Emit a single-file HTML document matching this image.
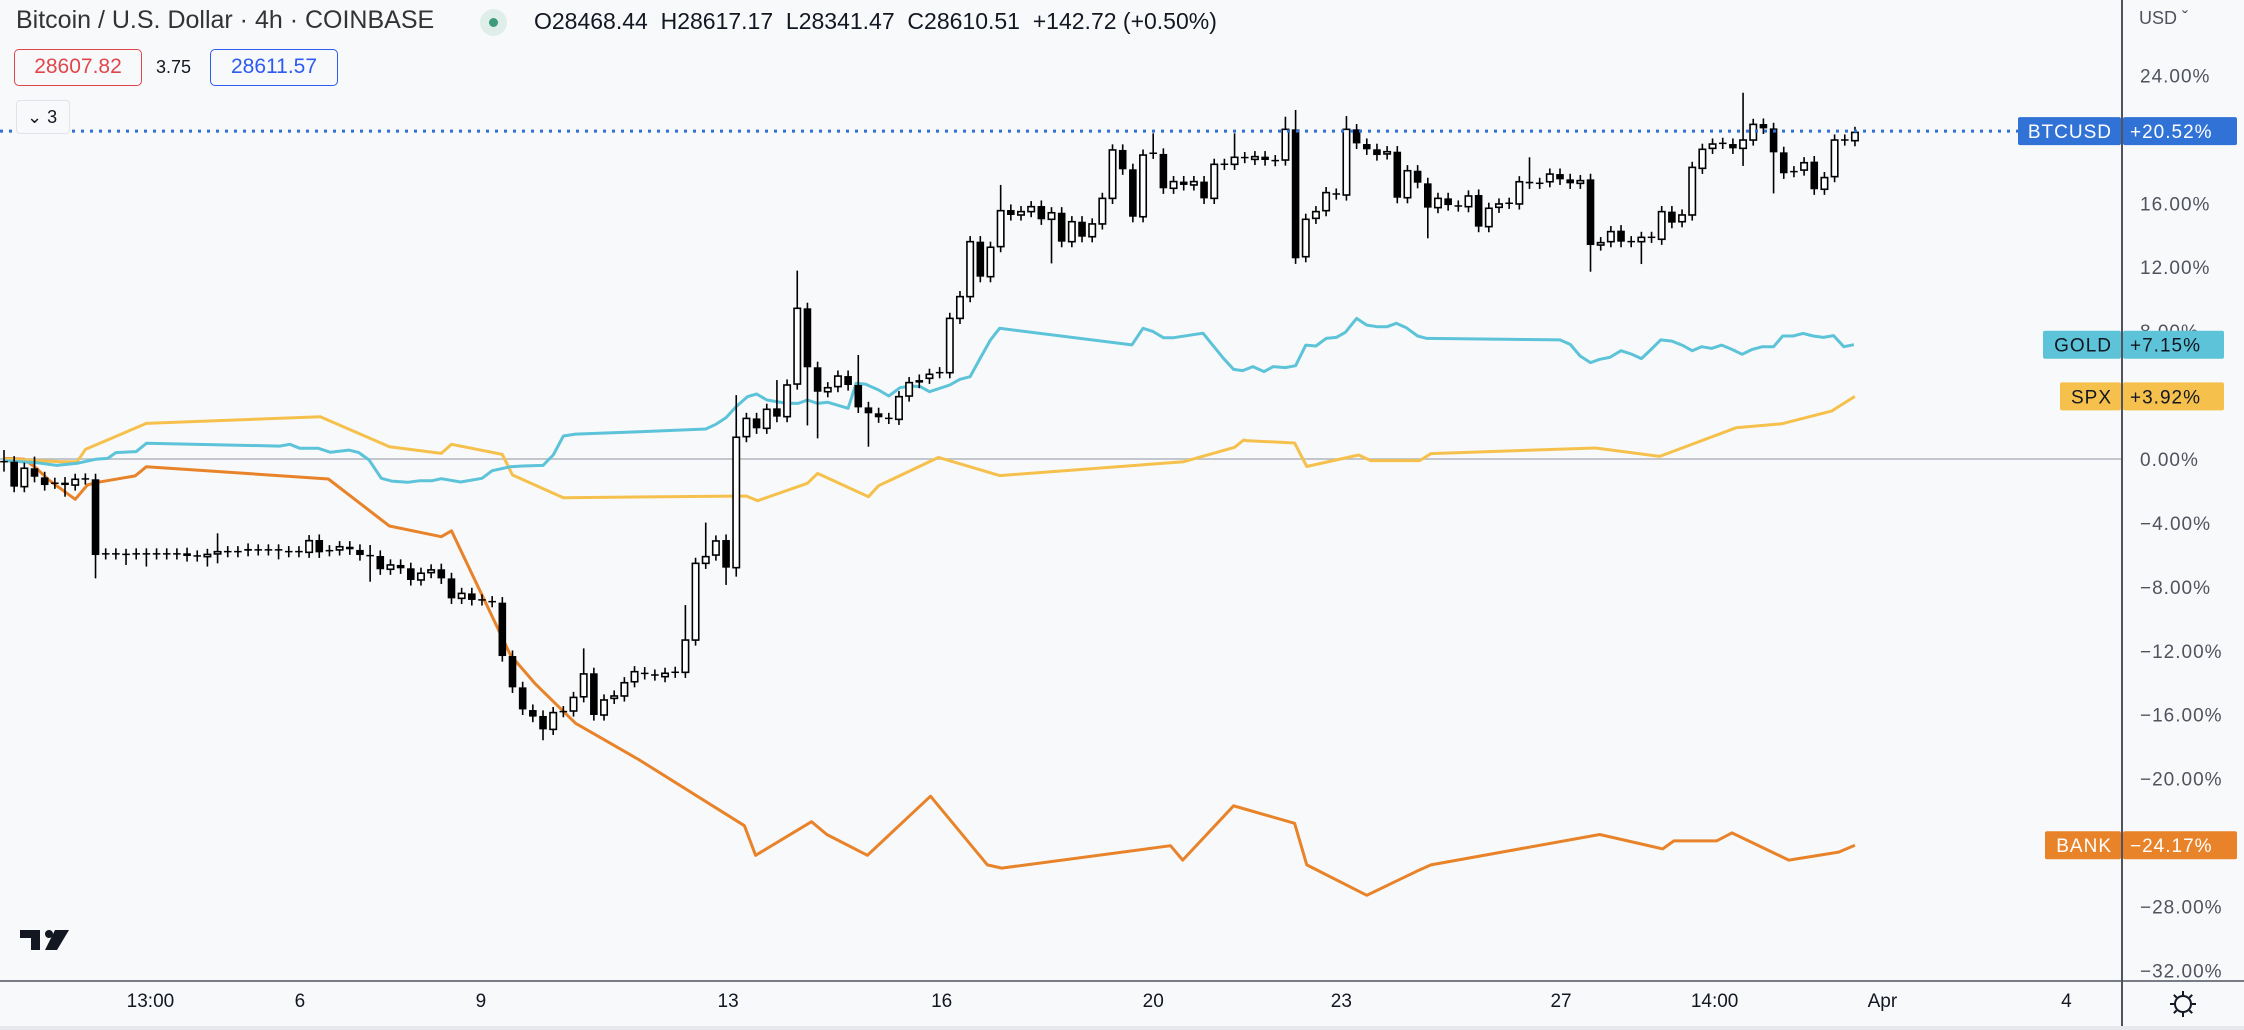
<!DOCTYPE html>
<html><head><meta charset="utf-8"><style>
html,body{margin:0;padding:0;background:#f8f9fb;}
body{width:2244px;height:1030px;overflow:hidden;position:relative;font-family:"Liberation Sans",sans-serif;}
svg{position:absolute;left:0;top:0;}
.hdr{position:absolute;white-space:nowrap;color:#131722;}
</style></head><body>
<svg id="chart" width="2244" height="1030" xmlns="http://www.w3.org/2000/svg"></svg>
<div class="hdr" style="left:16px;top:6px;font-size:25px;color:#333">Bitcoin / U.S. Dollar · 4h · COINBASE</div>
<div style="position:absolute;left:480px;top:9px;width:27px;height:27px;border-radius:50%;background:#dfeee9"><div style="position:absolute;left:9px;top:9px;width:9px;height:9px;border-radius:50%;background:#3d9a7c"></div></div>
<div class="hdr" style="left:534px;top:8px;font-size:23px;color:#131722">O28468.44&nbsp; H28617.17&nbsp; L28341.47&nbsp; C28610.51&nbsp; +142.72 (+0.50%)</div>
<div style="position:absolute;left:14px;top:49px;width:128px;height:37px;border:1.5px solid #e0474c;border-radius:5px;box-sizing:border-box;color:#e0474c;font-size:21px;text-align:center;line-height:34px">28607.82</div>
<div class="hdr" style="left:156px;top:57px;font-size:18px">3.75</div>
<div style="position:absolute;left:210px;top:49px;width:128px;height:37px;border:1.5px solid #2e5bf0;border-radius:5px;box-sizing:border-box;color:#2e5bf0;font-size:21px;text-align:center;line-height:34px">28611.57</div>
<div style="position:absolute;left:16px;top:100px;width:54px;height:34px;border:1px solid #e0e3eb;border-radius:4px;box-sizing:border-box;background:#f8f9fb;font-size:18px;line-height:32px;padding-left:10px;color:#131722">&#8964; 3</div>
<script>
const opens=[-0.17,-0.17,-1.73,-0.58,-1.15,-1.52,-1.48,-1.63,-1.25,-1.27,
-5.94,-5.94,-5.97,-5.94,-5.94,-5.94,-5.94,-5.94,-5.90,-6.07,
-6.11,-5.94,-5.80,-5.80,-5.63,-5.69,-5.69,-5.69,-5.80,-5.80,
-5.84,-5.07,-5.74,-5.69,-5.49,-5.69,-6.05,-6.07,-6.90,-6.63,
-6.84,-7.57,-7.11,-6.90,-7.47,-8.72,-8.41,-8.82,-8.93,-8.99,
-12.33,-14.29,-15.71,-16.08,-16.92,-15.81,-15.77,-14.88,-13.41,-16.02,
-14.98,-14.83,-13.94,-13.37,-13.52,-13.62,-13.35,-13.35,-11.33,-6.53,
-6.01,-5.07,-6.80,1.40,2.54,1.92,3.17,2.65,4.69,9.43,
5.74,4.21,4.53,5.19,4.63,3.23,2.86,2.54,2.48,3.94,
4.94,5.05,5.40,5.40,8.80,10.16,13.6,11.41,13.29,15.58,
15.27,15.48,15.83,15.0,15.41,13.60,14.85,13.91,14.71,16.31,
19.34,18.13,15.16,19.13,19.09,16.94,17.36,17.15,17.36,16.31,
18.44,18.44,18.86,18.75,18.92,18.67,18.71,20.63,12.66,15.06,
15.54,16.58,16.52,20.63,19.71,19.38,19.09,19.23,16.35,18.04,
17.25,15.73,16.31,15.83,15.79,16.52,14.54,15.75,16.0,15.96,
17.35,17.25,17.35,17.83,17.5,17.25,17.5,13.39,13.6,14.29,
13.6,13.6,13.87,13.75,15.48,14.85,15.27,18.19,19.44,19.75,
19.71,19.44,19.96,20.96,20.69,19.19,17.98,18.08,18.61,16.88,
17.67,19.96,19.92];
const closes=[-0.17,-1.73,-0.58,-1.11,-1.63,-1.52,-1.63,-1.27,-1.25,-6.01,
-5.94,-5.94,-5.97,-5.94,-5.94,-5.94,-5.94,-5.94,-6.07,-6.07,
-5.97,-5.80,-5.80,-5.80,-5.74,-5.69,-5.69,-5.69,-5.80,-5.80,
-5.11,-5.84,-5.74,-5.49,-5.65,-6.01,-6.05,-6.90,-6.63,-6.84,
-7.57,-7.15,-6.94,-7.47,-8.72,-8.41,-8.82,-8.82,-8.93,-12.33,
-14.29,-15.67,-16.12,-16.92,-15.87,-15.81,-14.92,-13.45,-16.02,-15.08,
-14.83,-14.0,-13.31,-13.45,-13.52,-13.41,-13.35,-11.33,-6.53,-6.11,
-5.13,-6.80,1.36,2.54,1.92,3.11,2.65,4.63,9.43,5.74,
4.21,4.46,5.19,4.63,3.23,2.86,2.61,2.54,3.90,4.78,
4.78,5.30,5.40,8.80,10.16,13.6,11.41,13.25,15.54,15.27,
15.48,15.79,15.0,15.41,13.60,14.85,13.91,14.71,16.31,19.34,
18.13,15.16,19.02,19.13,16.94,17.36,17.15,17.36,16.31,18.44,
18.44,18.88,18.86,18.92,18.71,18.67,20.63,12.56,15.0,15.48,
16.67,16.58,20.63,19.75,19.38,19.02,19.23,16.35,18.04,17.29,
15.73,16.31,15.89,15.83,16.46,14.54,15.69,15.96,16.0,17.35,
17.25,17.25,17.83,17.5,17.25,17.42,13.39,13.54,14.23,13.6,
13.6,13.87,13.87,15.48,14.79,15.27,18.25,19.38,19.71,19.75,
19.44,19.96,20.94,20.69,19.19,17.88,17.98,18.54,16.88,17.61,
19.96,19.96,20.44];
const highIdx=[0,3,21,36,57,67,69,72,76,78,84,98,113,121,126,127,132,133,150,171];
const highVal=[0.56,0.15,-4.65,-5.38,-11.85,-9.14,-3.98,4.00,4.94,11.79,6.51,17.15,20.38,20.38,21.42,21.84,21.46,20.96,18.88,22.92];
const lowIdx=[0,6,9,12,14,20,21,27,36,53,71,72,79,80,85,103,140,156,161,171,174];
const lowVal=[-0.79,-2.36,-7.47,-6.63,-6.73,-6.73,-6.53,-6.28,-7.68,-17.6,-7.88,-7.36,2.1,1.29,0.77,12.24,13.81,11.72,12.2,18.34,16.62];
const goldT=[0,3.2,5.2,7.2,9,10.2,11,13,14,27.1,28.1,29.1,30.9,32.1,33.9,34.9,35.9,37.1,38.1,39.7,40.9,42.1,43,44.9,47,48,49.8,51,53,54,55,56.2,62.5,69,70,71,72,73.1,74,75,77,78.1,79,80,81,83,83.8,84.7,86,87,88.1,89.1,90.1,91,93,94,95,95.9,97,97.9,110.9,112,113,114,115,117.9,119.9,120.9,121.8,122.8,123.9,124.8,126,127,128,129,130,131,131.9,133,134,135,136,136.9,137.9,139,139.9,153,154,155,156,156.9,157.9,159,160,161,161.9,162.9,164,165,166,166.9,167.9,168.9,169.9,170.9,171.9,172.9,174,174.9,175.9,176.9,177.9,178.9,179.9,180.9,181.9];
const goldV=[-0.10,-0.23,-0.40,-0.27,-0.02,0.04,0.40,0.46,0.98,0.81,0.92,0.67,0.67,0.42,0.56,0.40,-0.06,-1.21,-1.38,-1.46,-1.36,-1.36,-1.23,-1.44,-1.21,-0.73,-0.48,-0.44,-0.40,0.25,1.44,1.56,1.71,1.88,2.17,2.59,3.28,3.90,4.07,3.69,3.48,3.48,3.69,3.48,3.55,3.17,4.74,4.69,4.32,3.94,4.46,4.57,4.53,4.21,4.63,4.99,5.15,6.20,7.45,8.18,7.14,8.18,7.97,7.59,7.59,7.87,6.30,5.61,5.53,5.78,5.47,5.78,5.72,5.84,7.13,7.07,7.55,7.61,7.93,8.80,8.38,8.28,8.28,8.49,8.21,7.70,7.55,7.45,7.17,6.44,6.03,6.24,6.36,6.78,6.57,6.28,6.82,7.45,7.38,7.13,6.78,7.03,6.92,7.13,6.86,6.55,6.86,7.03,7.03,7.70,7.70,7.86,7.70,7.61,7.72,7.03,7.15];
const spxT=[0,5.6,7.2,8,14,31.1,37.9,43,44,49,50,55,71.6,73,74.1,79,80,85,86,91.9,97.9,116,121,121.9,122.1,126.9,128.1,133.2,134.4,139.2,140.3,156.5,162.8,170.3,174.8,179.7,182];
const spxV=[0,-0.17,-0.17,0.60,2.23,2.65,0.77,0.35,0.92,0.29,-1.00,-2.42,-2.32,-2.32,-2.61,-1.52,-0.90,-2.36,-1.67,0.10,-1.04,-0.17,0.73,1.19,1.15,1.0,-0.47,0.25,-0.10,-0.10,0.34,0.69,0.16,1.95,2.2,3.0,3.92];
const bankT=[0,2,3.2,4.4,7,8.2,9,12.9,14,31.9,37.9,43,44,49.8,52.2,56.2,62.5,72.8,73.9,79.4,80.9,84.9,91.1,96.7,98.1,114.7,115.9,120.9,122,126.9,128.1,134,138.9,140.3,156.9,163.1,164.2,168.4,169.9,175.5,180.4,182];
const bankV=[0.04,-0.02,-0.58,-1.31,-2.52,-1.63,-1.48,-1.06,-0.48,-1.25,-4.19,-4.86,-4.49,-12.27,-14.04,-16.54,-18.84,-22.95,-24.8,-22.7,-23.5,-24.8,-21.1,-25.4,-25.6,-24.2,-25.1,-21.7,-21.9,-22.8,-25.4,-27.3,-25.8,-25.4,-23.5,-24.4,-23.9,-23.9,-23.4,-25.1,-24.6,-24.17];
const yTicks=[24,16,12,8,0,-4,-8,-12,-16,-20,-28,-32];
const xTickT=[14.4,29.1,46.9,71.2,92.2,113,131.5,153.1,168.2,184.7,202.8];
const xTickLabels=["13:00","6","9","13","16","20","23","27","14:00","Apr","4"];
const lastValues={btc:20.52,gold:7.15,spx:3.92,bank:-24.17};

const NS="http://www.w3.org/2000/svg";
const svg=document.getElementById('chart');
const PLOT_R=2122, AXIS_B=981;
function X(t){return 4+10.17*t;}
function Y(v){return 459-15.98*v;}
function el(tag,attrs,parent){const e=document.createElementNS(NS,tag);for(const k in attrs)e.setAttribute(k,attrs[k]);(parent||svg).appendChild(e);return e;}
function fmt(v){return (v<0?'\u2212'+Math.abs(v).toFixed(2):v.toFixed(2))+'%';}

const clip=el('clipPath',{id:'pc'});el('rect',{x:0,y:0,width:PLOT_R,height:AXIS_B},clip);
const zl=el('line',{x1:0,x2:PLOT_R,y1:Y(0),y2:Y(0),stroke:'#b2b5be','stroke-width':1.5});



function drawLine(ts,vs,color,name){
  let d='';
  for(let i=0;i<ts.length;i++)d+=(i?'L':'M')+X(ts[i]).toFixed(1)+','+Y(vs[i]).toFixed(1);
  const p=el('path',{d:d,fill:'none',stroke:color,'stroke-width':3,'stroke-linejoin':'round','clip-path':'url(#pc)'});
  
  
}
drawLine(bankT,bankV,'#e8832a','bank-line');
drawLine(spxT,spxV,'#f5c14c','spx-line');
drawLine(goldT,goldV,'#5cc3d8','gold-line');

const cg=el('g',{'clip-path':'url(#pc)'});


for(let i=0;i<closes.length;i++){
  const o=opens[i],c=closes[i];
  let hi=Math.max(o,c)+0.35, lo=Math.min(o,c)-0.35;
  const hk=highIdx.indexOf(i); if(hk>=0)hi=highVal[hk];
  const lk=lowIdx.indexOf(i); if(lk>=0)lo=lowVal[lk];
  const x=X(i);
  const g=el('g',{},cg);
  
  
  el('line',{x1:x,x2:x,y1:Y(hi),y2:Y(lo),stroke:'#000','stroke-width':1.6},g);
  const top=Y(Math.max(o,c)),bot=Y(Math.min(o,c));
  const h=Math.max(bot-top,1.5);
  if(c<o||Math.abs(c-o)<0.05){
    el('rect',{x:x-3.8,y:top-(Math.abs(c-o)<0.05?0.8:0),width:7.6,height:h,fill:'#000'},g);
  }else{
    el('rect',{x:x-3.2,y:top,width:6.4,height:h,fill:'#fff',stroke:'#000','stroke-width':1.6},g);
  }
}
const pl=el('line',{x1:0,x2:PLOT_R,y1:Y(lastValues.btc),y2:Y(lastValues.btc),stroke:'#2f6fd6','stroke-width':3,'stroke-dasharray':'3,6'});



el('rect',{x:PLOT_R,y:0,width:2244-PLOT_R,height:1030,fill:'#f8f9fb'});
el('rect',{x:0,y:AXIS_B,width:2244,height:1030-AXIS_B,fill:'#f8f9fb'});
const va=el('line',{x1:PLOT_R,x2:PLOT_R,y1:0,y2:1030,stroke:'#50535e','stroke-width':2});


const ha=el('line',{x1:0,x2:2244,y1:AXIS_B,y2:AXIS_B,stroke:'#50535e','stroke-width':1.5});


el('rect',{x:0,y:1026,width:2244,height:4,fill:'#e6e8ee'});
const usd=el('text',{x:2139,y:24,'font-size':18,fill:'#50535e','font-family':'Liberation Sans, sans-serif'});
usd.textContent='USD \u02C7';


for(const v of yTicks){
  const t=el('text',{x:2140,y:Y(v)+7,'font-size':19,fill:'#50535e','font-family':'Liberation Sans, sans-serif','letter-spacing':'1'});
  t.textContent=fmt(v);
  
  
}
for(let i=0;i<xTickT.length;i++){
  const t=el('text',{x:X(xTickT[i]),y:1007,'font-size':19,fill:'#131722','text-anchor':'middle','font-family':'Liberation Sans, sans-serif'});
  t.textContent=xTickLabels[i];
  
  
}
function badge(name,val,color,txtColor,lx,rx,nameTag){
  const y=Y(val);
  const g=el('g',{});
  
  
  el('rect',{x:lx,y:y-14,width:PLOT_R-1-lx,height:28,rx:2,fill:color},g);
  el('rect',{x:PLOT_R+1,y:y-14,width:rx-PLOT_R-1,height:28,rx:2,fill:color},g);
  const t1=el('text',{x:PLOT_R-10,y:y+7,'font-size':19,fill:txtColor,'text-anchor':'end','font-family':'Liberation Sans, sans-serif','letter-spacing':'1'},g);
  t1.textContent=name;
  const t2=el('text',{x:PLOT_R+8,y:y+7,'font-size':19,fill:txtColor,'font-family':'Liberation Sans, sans-serif','letter-spacing':'1'},g);
  t2.textContent=(val>0?'+':'')+fmt(val);
}
badge('BTCUSD',lastValues.btc,'#3172d6','#fff',2018,2237,'btcusd-badge');
badge('GOLD',lastValues.gold,'#5cc3d8','#131722',2043,2224,'gold-badge');
badge('SPX',lastValues.spx,'#f5c14c','#131722',2060,2224,'spx-badge');
badge('BANK',lastValues.bank,'#e8832a','#fff',2045,2237,'bank-badge');
const gear=el('g',{stroke:'#131722','stroke-width':2,fill:'none'});


el('circle',{cx:2183,cy:1004,r:8},gear);
for(let a=0;a<8;a++){const r=a*Math.PI/4;el('line',{x1:2183+9*Math.cos(r),y1:1004+9*Math.sin(r),x2:2183+13*Math.cos(r),y2:1004+13*Math.sin(r)},gear);}
const logo=el('g',{fill:'#131722'});


el('path',{d:'M20,930 h20 v20 h-9 v-12 h-11 z'},logo);
el('circle',{cx:49,cy:934,r:4},logo);
el('path',{d:'M55,930 h14 l-12,20 h-12 z'},logo);
</script>
</body></html>
